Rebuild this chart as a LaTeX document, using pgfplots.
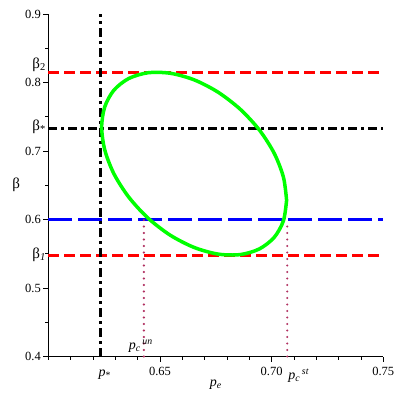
\documentclass[border=0pt]{standalone}
\usepackage{fontspec}
\setmainfont{Liberation Serif}
\usepackage{amsmath}
\usepackage{pgfplots}
\pgfplotsset{compat=1.18}
\definecolor{maplemaroon}{RGB}{176,48,96}
\begin{document}
\begin{tikzpicture}
\begin{axis}[
    scale only axis,
    width=335pt,height=342.5pt,
    xmin=0.6,xmax=0.75,ymin=0.4,ymax=0.9,
    axis x line*=bottom,axis y line*=left,
    axis line style={line width=0.8pt},
    xtick={0.65,0.70,0.75},
    minor xtick={0.60,0.61,0.62,0.63,0.64,0.66,0.67,0.68,0.69,0.71,0.72,0.73,0.74},
    ytick={0.4,0.5,0.6,0.7,0.8,0.9},
    minor ytick={0.45,0.55,0.65,0.75,0.85},
    tick align=outside,
    major tick length=5pt,minor tick length=3pt,
    tick style={black,line width=0.8pt},
    /pgf/number format/assume math mode=true,
    xticklabel style={font=\fontsize{12.5}{12.5}\selectfont,yshift=-2pt,/pgf/number format/.cd,fixed,fixed zerofill,precision=2},
    yticklabel style={font=\fontsize{12.5}{12.5}\selectfont,xshift=1pt,/pgf/number format/.cd,fixed,fixed zerofill,precision=1},
    clip=false
]
% horizontal levels
\addplot[red,line width=2.8pt,dash pattern=on 11pt off 5pt] coordinates {(0.6,0.815) (0.75,0.815)};
\addplot[red,line width=2.8pt,dash pattern=on 11pt off 5pt] coordinates {(0.6,0.547) (0.75,0.547)};
\addplot[blue,line width=2.8pt,dash pattern=on 24pt off 6pt] coordinates {(0.6,0.6) (0.75,0.6)};
\addplot[black,line width=2.6pt,dash pattern=on 9pt off 4pt on 3pt off 4pt] coordinates {(0.6,0.733) (0.75,0.733)};
\addplot[black,line width=2.6pt,dash pattern=on 9pt off 4pt on 3pt off 4pt] coordinates {(0.6235,0.4) (0.6235,0.9)};
% dotted drop lines
\addplot[maplemaroon,line width=2.3pt,line cap=round,dash pattern=on 0pt off 6.5pt] coordinates {(0.6428,0.4) (0.6428,0.6)};
\addplot[maplemaroon,line width=2.3pt,line cap=round,dash pattern=on 0pt off 6.5pt] coordinates {(0.7070,0.4) (0.7070,0.597)};
% closed curve
\addplot[green,line width=3.5pt,smooth] coordinates {
(0.7067,0.6281) (0.7053,0.6616) (0.7012,0.6964) (0.6946,0.7303) (0.6860,0.7608)
(0.6760,0.7859) (0.6653,0.8039) (0.6546,0.8135) (0.6446,0.8142) (0.6360,0.8058)
(0.6294,0.7889) (0.6253,0.7647) (0.6239,0.7349) (0.6253,0.7014) (0.6294,0.6666)
(0.6360,0.6328) (0.6446,0.6022) (0.6546,0.5771) (0.6653,0.5592) (0.6760,0.5495)
(0.6860,0.5488) (0.6946,0.5572) (0.7012,0.5741) (0.7053,0.5983) (0.7067,0.6281)
};
\coordinate (O) at (axis cs:0.6,0.4);
% labels
\node[anchor=east,font=\fontsize{15}{15}\selectfont] at (axis cs:0.6,0.826) [xshift=1pt] {β\textsubscript{2}};
\node[anchor=east,font=\fontsize{15}{15}\selectfont] at (axis cs:0.6,0.735) [xshift=1pt] {β\textsubscript{*}};
\node[anchor=east,font=\fontsize{15}{15}\selectfont] at (axis cs:0.6,0.549) [xshift=1pt] {β\textsubscript{\textit{1}}};
\node[font=\fontsize{15}{15}\selectfont] at (axis cs:0.6,0.65) [xshift=-32pt] {β};
\node[font=\fontsize{14}{14}\selectfont] at (axis cs:0.675,0.4) [yshift=-28pt] {\textit{p}\textsubscript{\textit{e}}};
\node[font=\fontsize{14}{14}\selectfont] at (axis cs:0.6235,0.4) [yshift=-18pt,xshift=4pt] {\textit{p}\textsubscript{*}};
\node[anchor=west,font=\fontsize{14}{14}\selectfont,inner sep=1pt] at (axis cs:0.707,0.4) [yshift=-19pt] {\textit{p}\textsubscript{\textit{c}}\textsuperscript{\,\textit{st}}};
\node[anchor=south east,font=\fontsize{14}{14}\selectfont,inner sep=1pt] at (axis cs:0.6428,0.4) [yshift=3pt,xshift=10pt] {\textit{p}\textsubscript{\textit{c}}\textsuperscript{\,\textit{un}}};
\end{axis}
\path (O) ++(-48.3pt,-43.5pt) rectangle ++(400pt,400pt);
\end{tikzpicture}
\end{document}
